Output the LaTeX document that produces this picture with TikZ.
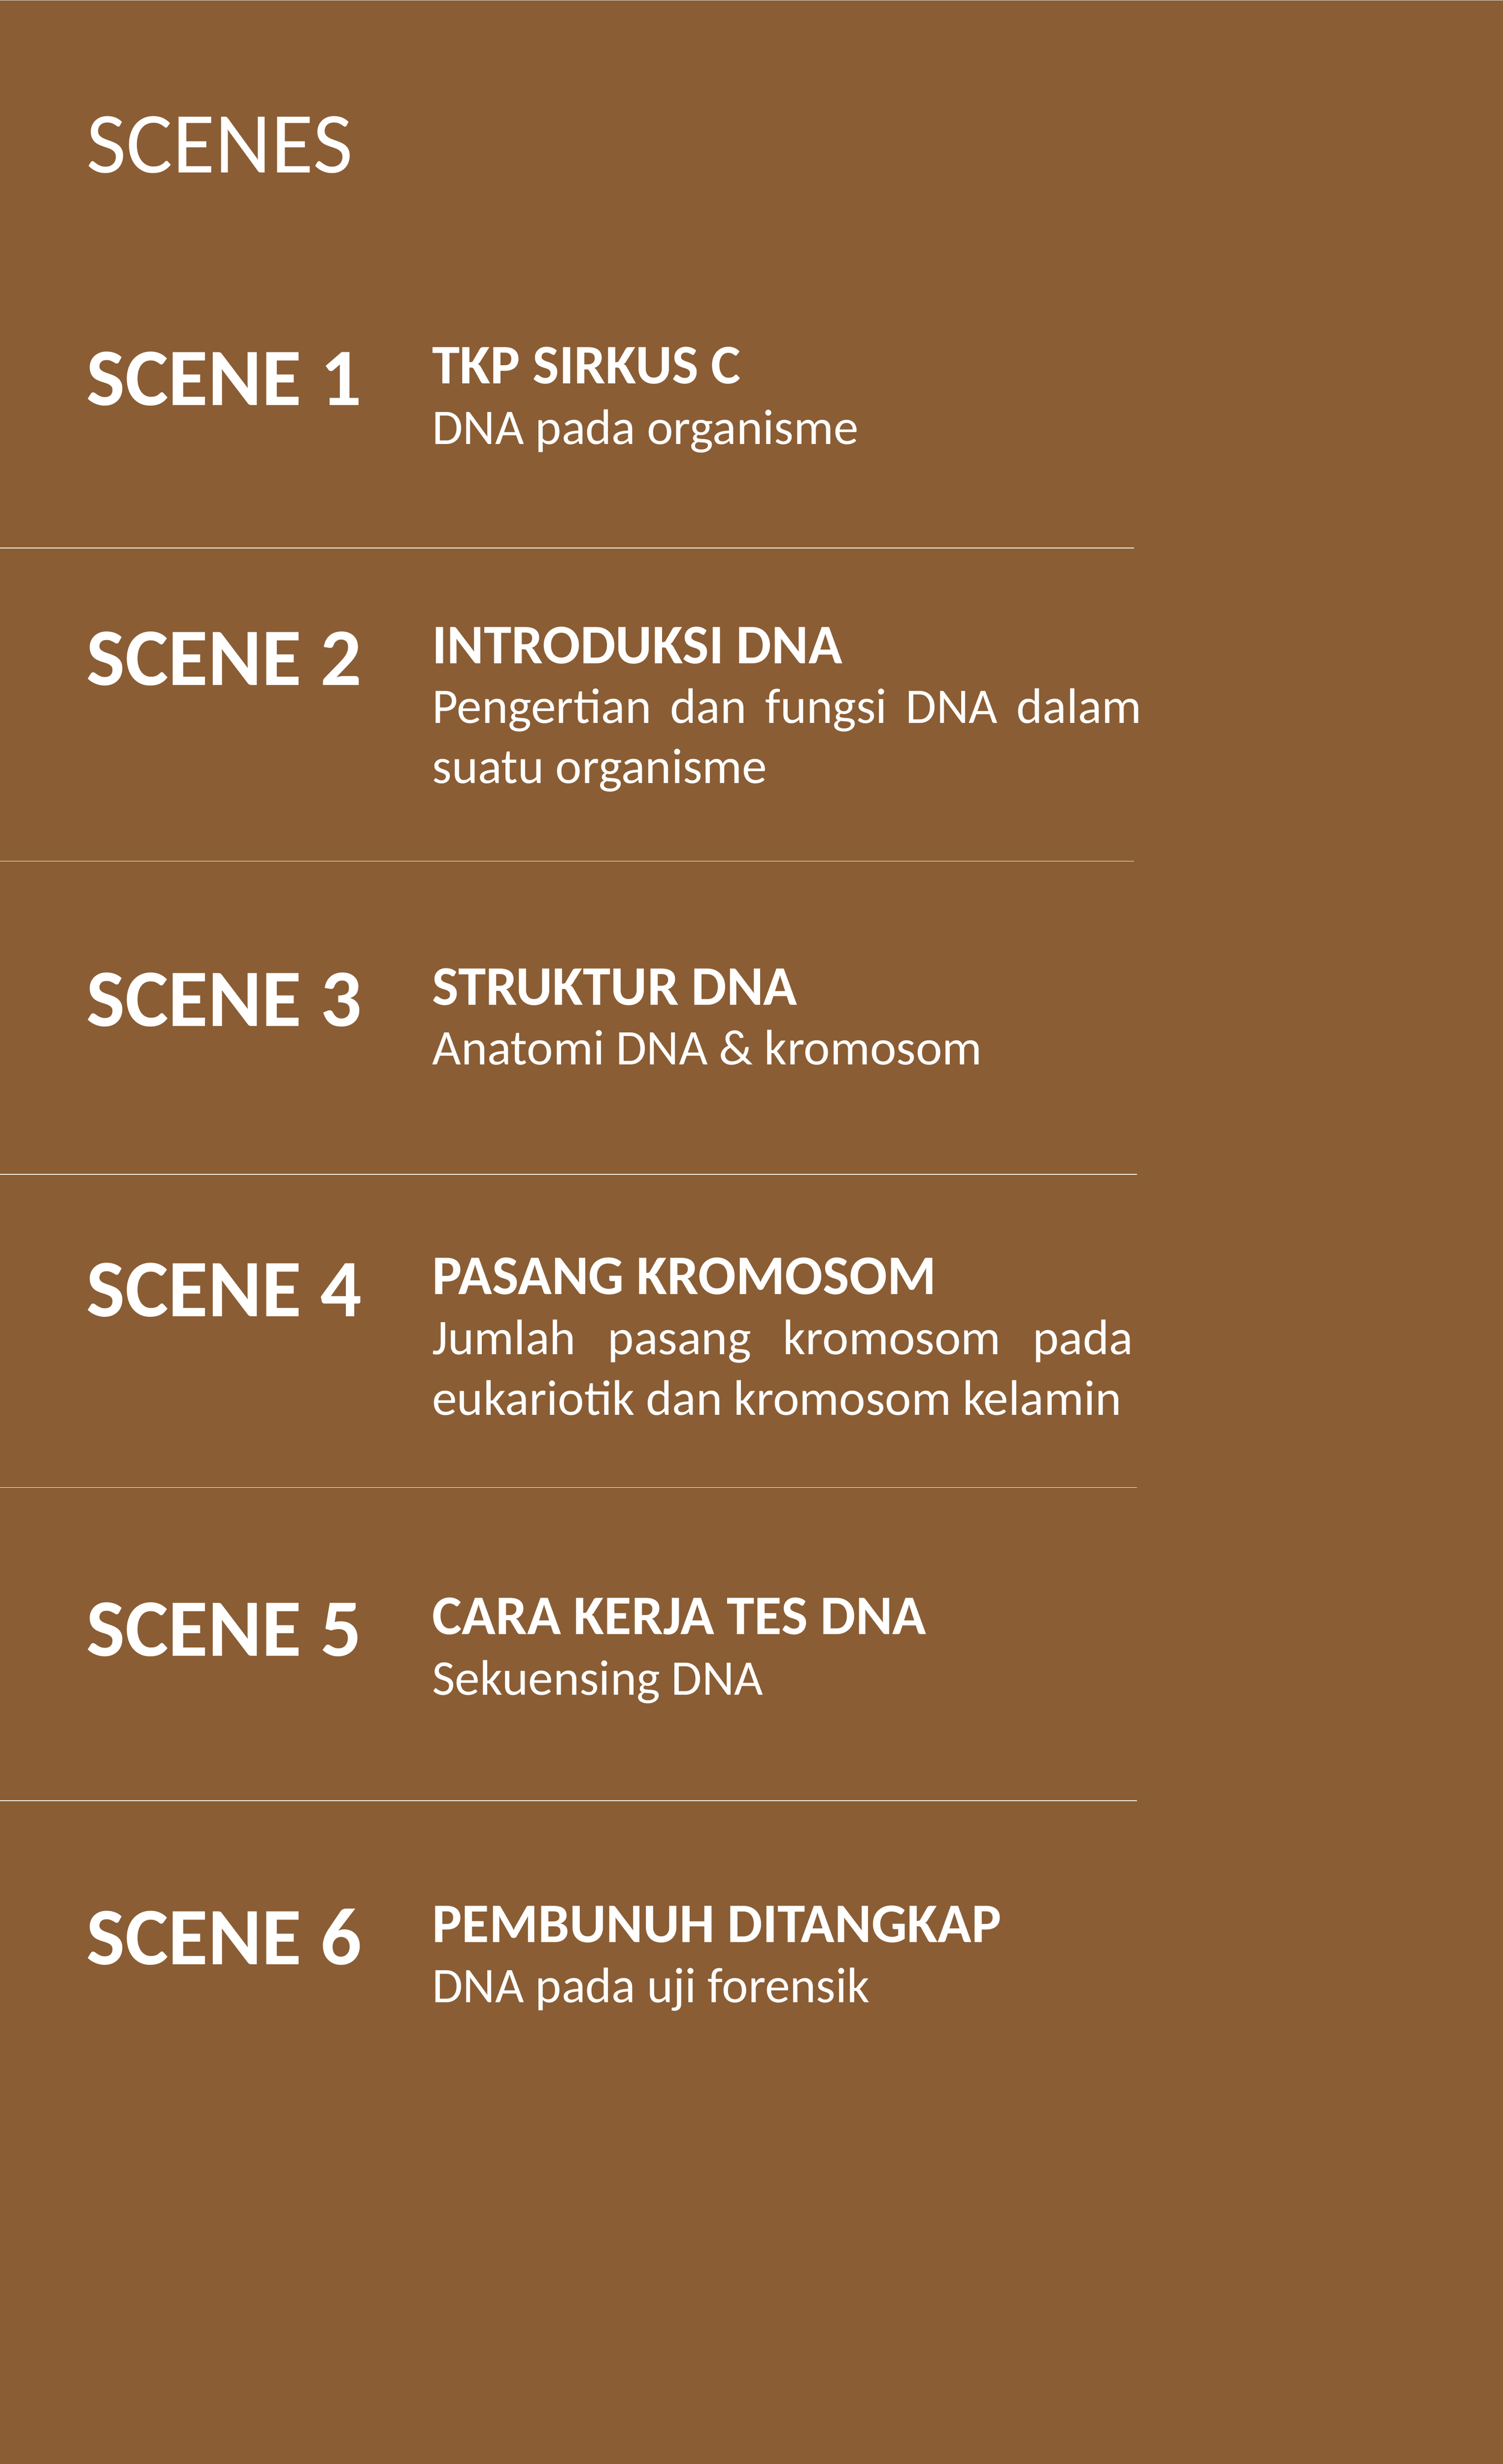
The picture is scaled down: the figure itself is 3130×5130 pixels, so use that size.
\documentclass[tikz,border=0pt]{standalone}
\usepackage{fontspec}
\setmainfont{Carlito}
\definecolor{bgbrown}{HTML}{8B5D34}
\definecolor{rulecream}{HTML}{F3EBDD}
\definecolor{topedge}{HTML}{D9D2CB}
\begin{document}
\begin{tikzpicture}[x=1pt,y=-1pt,
  bigscene/.style={anchor=base west,inner sep=0pt,text=white,font=\fontsize{170}{200}\selectfont\bfseries},
  heading/.style={anchor=base west,inner sep=0pt,text=white,font=\fontsize{181}{210}\selectfont},
  ttl/.style={anchor=base west,inner sep=0pt,text=white,font=\fontsize{116.5}{125}\selectfont\bfseries},
  sub/.style={anchor=base west,inner sep=0pt,text=white,font=\fontsize{104}{125}\selectfont},
  sep/.style={draw=rulecream,line width=1.6pt}]
\fill[bgbrown] (0,0) rectangle (3130,5130);
\useasboundingbox (0,0) rectangle (3130,5130);
\draw[topedge,line width=1.5pt] (0,0.75) -- (3130,0.75);

\node[heading] (hd) at (180,360) {SCENES};

% scene 1
\node[bigscene] (s1) at (180,844) {SCENE 1};
\node[ttl] (t1) at (900,799) {TKP SIRKUS C};
\node[sub] (d1) at (900,925) {DNA pada organisme};
\coordinate (l1a) at (0,1141);
\coordinate (l1b) at (2362,1141);
\draw[sep] (l1a) -- (l1b);

% scene 2
\node[bigscene] (s2) at (180,1427) {SCENE 2};
\node[ttl] (t2) at (900,1381) {INTRODUKSI DNA};
\node[sub] (d2a) at (900,1506) {\makebox[1478pt][s]{Pengertian dan fungsi DNA dalam}};
\node[sub] (d2b) at (900,1631) {suatu organisme};
\coordinate (l2a) at (0,1793);
\coordinate (l2b) at (2362,1793);
\draw[sep] (l2a) -- (l2b);

% scene 3
\node[bigscene] (s3) at (180,2137) {SCENE 3};
\node[ttl] (t3) at (900,2092) {STRUKTUR DNA};
\node[sub] (d3) at (900,2217) {Anatomi DNA \& kromosom};
\coordinate (l3a) at (0,2445);
\coordinate (l3b) at (2368,2445);
\draw[sep] (l3a) -- (l3b);

% scene 4
\node[bigscene] (s4) at (180,2741) {SCENE 4};
\node[ttl] (t4) at (900,2695) {PASANG KROMOSOM};
\node[sub] (d4a) at (900,2820) {\makebox[1460pt][s]{Jumlah pasang kromosom pada}};
\node[sub] (d4b) at (900,2946) {eukariotik dan kromosom kelamin};
\coordinate (l4a) at (0,3097);
\coordinate (l4b) at (2368,3097);
\draw[sep] (l4a) -- (l4b);

% scene 5
\node[bigscene] (s5) at (180,3448) {SCENE 5};
\node[ttl] (t5) at (900,3403) {CARA KERJA TES DNA};
\node[sub] (d5) at (900,3529) {Sekuensing DNA};
\coordinate (l5a) at (0,3749);
\coordinate (l5b) at (2368,3749);
\draw[sep] (l5a) -- (l5b);

% scene 6
\node[bigscene] (s6) at (180,4090) {SCENE 6};
\node[ttl] (t6) at (900,4044) {PEMBUNUH DITANGKAP};
\node[sub] (d6) at (900,4169) {DNA pada uji forensik};
\end{tikzpicture}
\end{document}
